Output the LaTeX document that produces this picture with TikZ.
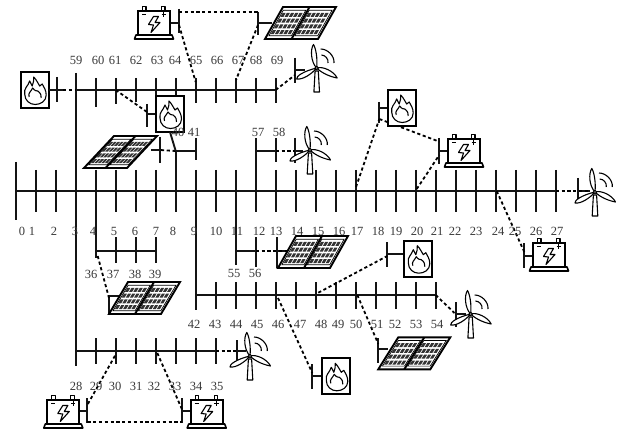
\documentclass[tikz,border=0pt]{standalone}
\usepackage{fontspec}
\setmainfont{Liberation Serif}
\definecolor{labelgray}{gray}{0.22}
\tikzset{
  busline/.style={line width=1.9pt,black!92},
  tickline/.style={line width=1.9pt,black!92},
  dashlink/.style={line width=1.8pt,black,dash pattern=on 3.2pt off 2.6pt},
  iconline/.style={line width=1.6pt,black,line join=round},
  thinicon/.style={line width=1.1pt,black,line join=round},
  lab/.style={font=\fontsize{12.5}{13}\selectfont,text=labelgray,inner sep=0pt,anchor=center},
  fbox/.style={draw,fill=white,line width=1.9pt,minimum width=28pt,minimum height=36pt,inner sep=0pt,outer sep=0pt,anchor=north west},
  bbox/.style={draw,fill=white,line width=1.8pt,minimum width=32pt,minimum height=24pt,inner sep=0pt,outer sep=0pt,anchor=north west},
}
% tick: name, x, ytop, ybottom
\newcommand\bustick[4]{%
  \coordinate (#1-t) at (#2,#3);
  \coordinate (#1-b) at (#2,#4);
  \draw[tickline] (#1-t) -- (#1-b);}
% fire box: name, x, y of top left corner
\newcommand\firebox[3]{%
  \node[fbox] (#1) at (#2,#3) {};
  \begin{scope}[shift={(#2,#3)}]
    \draw[thinicon,fill=white] (4,22) .. controls (3,16) and (7,15) .. (9,9)
      .. controls (10.5,11) and (11,12) .. (11.5,14)
      .. controls (13,11) and (13,8) .. (13,5)
      .. controls (16,8) and (17,11) .. (19,14)
      .. controls (20.5,13.5) and (21,13) .. (21.5,12)
      .. controls (23,15) and (25.5,18) .. (25.5,23)
      .. controls (25.5,29) and (20,32.5) .. (14.5,32.5)
      .. controls (9,32.5) and (4,28.5) .. (4,22) -- cycle;
    \draw[thinicon] (8.5,25) .. controls (7,21) and (10,20) .. (12,16)
      .. controls (14,19) and (16,19) .. (17,19)
      .. controls (20,21) and (21,24) .. (20.5,26);
  \end{scope}}
% battery: name, x, y of body top left corner
\newcommand\battery[3]{%
  \begin{scope}[shift={(#2,#3)}]
    \draw[thinicon,fill=white] (4.5,0) rectangle (8,-4.5);
    \draw[thinicon,fill=white] (23.5,0) rectangle (27,-4.5);
  \end{scope}
  \node[bbox] (#1) at (#2,#3) {};
  \begin{scope}[shift={(#2,#3)}]
    \draw[iconline,fill=white] (-3.5,28) -- (-2,24) -- (34,24) -- (35.5,28) -- cycle;
    \draw[thinicon] (4,3.5) -- (8,3.5);
    \draw[thinicon] (23.5,3.5) -- (28,3.5) (25.75,1.2) -- (25.75,5.8);
    \draw[thinicon] (15.5,5.5) -- (10.5,13.5) -- (15.5,14) -- (13,21.5) -- (22,11.5)
       -- (17,11.5) -- (20.5,5.5) -- cycle;
  \end{scope}}
% solar panel: name, x, y of bottom left corner, width, shear
\newcommand\solar[5]{%
  \coordinate (#1) at (#2,#3);
  \begin{scope}[shift={(#2,#3)},x={(#4pt,0pt)},y={(#5pt,32pt)}]
    \fill[white] (0,0) -- (1,0) -- (1,1) -- (0,1) -- cycle;
    \foreach \px in {0.055,0.545}{
      \foreach \i in {0,...,4}{
        \foreach \j in {0,...,3}{
          \pgfmathsetmacro\ua{\px+0.08*\i}
          \pgfmathsetmacro\ub{\ua+0.058}
          \pgfmathsetmacro\va{0.15+0.18*\j}
          \pgfmathsetmacro\vb{\va+0.125}
          \fill[black!80] (\ua,\va) -- (\ub,\va) -- (\ub,\vb) -- (\ua,\vb) -- cycle;
        }}}
    \draw[line width=1.9pt,line join=miter] (0,0) -- (1,0) -- (1,1) -- (0,1) -- cycle;
    \draw[line width=1.9pt] (0.5,0) -- (0.5,1);
    \draw[line width=0.7pt] (0.04,0.1) -- (0.465,0.1) -- (0.465,0.9) -- (0.04,0.9) -- cycle;
    \draw[line width=0.7pt] (0.53,0.1) -- (0.96,0.1) -- (0.96,0.9) -- (0.53,0.9) -- cycle;
  \end{scope}}
% wind turbine: name, hub x, hub y
\newcommand\turbine[3]{%
  \coordinate (#1) at (#2,#3);
  \begin{scope}[shift={(#2,#3)}]
    \draw[thinicon,fill=white] (-1.6,3) -- (-2.8,24) -- (2.8,24) -- (1.6,3) -- cycle;
    \draw[thinicon,fill=white] (0,0) .. controls (-6,-6) and (-6.5,-19) .. (-3.2,-23.5)
       .. controls (-1,-20) and (1,-10) .. (0,0) -- cycle;
    \draw[thinicon,fill=white] (0,0) .. controls (6,-2) and (17,3) .. (20.5,10)
       .. controls (15,9) and (6,6) .. (0,0) -- cycle;
    \draw[thinicon,fill=white] (0,0) .. controls (-5,6) and (-14,12) .. (-20,11)
       .. controls (-21,8.5) and (-13,3) .. (0,0) -- cycle;
    \fill[white] (0,0) circle (1.7);
    \draw[thinicon] (0,0) circle (1.7);
    \draw[thinicon] (4,-19) .. controls (11,-19) and (18,-12) .. (17.3,-5);
    \draw[thinicon] (4.7,-13) .. controls (8.5,-13) and (12,-9) .. (11.3,-5);
  \end{scope}}

\begin{document}
\begin{tikzpicture}[x=1pt,y=-1pt]
\useasboundingbox (0,0) rectangle (619,433);

% --- main bus 0-27
\coordinate (main-w) at (15.7,191);
\coordinate (main-e) at (555.7,191);
\draw[busline] (main-w) -- (main-e);
\bustick{m0}{15.7}{162}{220}
\bustick{m3}{75.7}{73}{366}
\bustick{m4}{95.7}{170}{258}
\bustick{m8}{175.7}{150}{212}
\bustick{m9}{195.7}{170}{310}
\bustick{m11}{235.7}{170}{265}
\bustick{m12}{255.7}{138}{212}
\foreach \i in {1,2,5,6,7,10,13,14,15,16,17,18,19,20,21,22,23,24,25,26,27}{
  \pgfmathsetmacro\xx{15.7+20*\i}
  \bustick{m\i}{\xx}{170}{212}
}

% --- upper bus 59-69
\coordinate (up-w) at (75.7,90);
\coordinate (up-e) at (275.7,90);
\draw[busline] (up-w) -- (up-e);
\foreach \i/\xx/\yb in {60/95.7/107,61/115.7/104,62/135.7/102,63/155.7/103,64/175.7/103,65/195.7/103,66/215.7/103,67/235.7/103,68/255.7/103,69/275.7/103}{
  \bustick{u\i}{\xx}{78}{\yb}
}

% --- branch 36-39
\coordinate (b36) at (95.7,251);
\coordinate (b39) at (155.7,251);
\draw[busline] (b36) -- (b39);
\foreach \i/\xx in {37/115.7,38/135.7,39/155.7}{\bustick{c\i}{\xx}{237}{263}}

% --- branch 42-54
\coordinate (b42) at (195.7,295);
\coordinate (b54) at (435.7,295);
\draw[busline] (b42) -- (b54);
\foreach \i/\xx in {43/215.7,44/235.7,45/255.7,46/275.7,47/295.7,48/315.7,49/335.7,50/355.7,51/375.7,52/395.7,53/415.7,54/435.7}{\bustick{d\i}{\xx}{282}{309}}

% --- branch 55-56
\coordinate (b55) at (235.7,251);
\coordinate (b56) at (255.7,251);
\draw[busline] (b55) -- (b56);
\bustick{e56}{255.7}{237}{267}

% --- branch 57-58
\coordinate (b57) at (255.7,151);
\coordinate (b58) at (275.7,151);
\draw[busline] (b57) -- (b58);
\bustick{f58}{275.7}{138}{162}

% --- branch 40-41
\coordinate (b40) at (175.7,151);
\coordinate (b41) at (195.7,151);
\draw[busline] (b40) -- (b41);
\bustick{g41}{195.7}{138}{160}

% --- lower bus 28-35
\coordinate (b28) at (75.7,351);
\coordinate (b35) at (215.7,351);
\draw[busline] (b28) -- (b35);
\foreach \i/\xx in {29/95.7,30/115.7,31/135.7,32/155.7,33/175.7,34/195.7,35/215.7}{\bustick{h\i}{\xx}{338}{364}}

% --- device ticks
\bustick{tf1}{57}{77}{102}
\bustick{tf2}{147}{104}{127}
\bustick{tf3}{379.3}{102}{123}
\bustick{tf4}{387.3}{242}{267}
\bustick{tf5}{312.3}{364}{389}
\bustick{tb1}{179}{9}{33}
\bustick{tb2}{439.3}{138}{164}
\bustick{tb3}{524.3}{243}{268}
\bustick{tb4}{87.3}{398}{423}
\bustick{tb5}{182.3}{398}{423}
\bustick{ts1}{258}{12}{35}
\bustick{ts2}{160}{137}{163}
\bustick{ts3}{277}{237}{268}
\bustick{ts4}{109}{295}{314}
\bustick{ts5}{378.3}{338}{363}
\bustick{tw1}{295}{58}{83}
\bustick{tw2}{295}{138}{163}
\bustick{tw3}{577.7}{178}{202}
\bustick{tw4}{455.7}{302}{327}
\bustick{tw5}{237}{340}{362}

% --- stubs from ticks to devices
\coordinate (sf1a) at (57,90);   \coordinate (sf1e) at (63,90);
\coordinate (sf2a) at (147,114); \coordinate (sf3a) at (379.3,108);
\coordinate (sf4a) at (387.3,253.7); \coordinate (sf5a) at (312.3,375.7);
\coordinate (sb1a) at (179,23);  \coordinate (sb2a) at (439.3,151);
\coordinate (sb3a) at (524.3,256); \coordinate (sb4a) at (87.3,411.3);
\coordinate (sb5a) at (182.3,411.3);
\coordinate (ss1a) at (258,23);  \coordinate (ss1e) at (272,23);
\coordinate (ss2a) at (160,150); \coordinate (ss2e) at (151,150);
\coordinate (ss3a) at (277,251); \coordinate (ss3e) at (288,251);
\coordinate (ss4a) at (109,296); \coordinate (ss4e) at (120,296);
\coordinate (ss5a) at (378.3,349); \coordinate (ss5e) at (388,349);
\coordinate (sw1a) at (295,70);  \coordinate (sw1e) at (305,70);
\coordinate (sw2a) at (295,151); \coordinate (sw2e) at (303,151);
\coordinate (sw3a) at (577.7,191); \coordinate (sw3e) at (590,191);
\coordinate (sw4a) at (455.7,314); \coordinate (sw4e) at (466,314);
\coordinate (sw5a) at (237,351); \coordinate (sw5e) at (246,351);
\draw[busline] (sf2a) -- ++(9,0);
\draw[busline] (sf3a) -- ++(9,0);
\draw[busline] (sf4a) -- ++(17,0);
\draw[busline] (sf5a) -- ++(10,0);
\draw[busline] (sb1a) -- ++(-9,0);
\draw[busline] (sb2a) -- ++(9,0);
\draw[busline] (sb3a) -- ++(9,0);
\draw[busline] (sb4a) -- ++(-8,0);
\draw[busline] (sb5a) -- ++(9,0);
\foreach \p in {ss1,ss2,ss3,ss4,ss5,sw1,sw2,sw3,sw4,sw5}{\draw[busline] (\p a) -- (\p e);}

% --- dashed links
\coordinate (dA) at (115.7,90);
\coordinate (dA2) at (147,112);
\draw[dashlink] (dA) -- (dA2);
\coordinate (dT1) at (179,12);   \coordinate (dT2) at (258,12);
\draw[dashlink] (dT1) -- (dT2);
\coordinate (dT3) at (179,25);   \coordinate (dT4) at (195.7,82);
\draw[dashlink] (dT3) -- (dT4);
\coordinate (dT5) at (258,25);   \coordinate (dT6) at (236,80);
\draw[dashlink] (dT5) -- (dT6);
\coordinate (dW1) at (295,75);
\draw[dashlink] (up-e) -- (dW1);
\draw[dashlink] (b40) -- (ss2a);
\draw[dashlink] (b58) -- (sw2a);
\draw[dashlink] (main-e) -- (sw3e);
\coordinate (dW4) at (454.5,313);
\draw[dashlink] (b54) -- (dW4);
\draw[dashlink] (b35) -- (sw5a);
\draw[dashlink] (b56) -- (ss3e);
\draw[dashlink] (sf1e) -- (up-w);
\draw[busline] (sf1a) -- (sf1e);
\coordinate (dF1) at (356,187);  \coordinate (dF2) at (379.3,119);
\draw[dashlink] (dF1) -- (dF2);
\coordinate (dF3) at (439.3,141.7);
\draw[dashlink] (dF2) -- (dF3);
\coordinate (dF4) at (416.7,189); \coordinate (dF5) at (439.3,155);
\draw[dashlink] (dF4) -- (dF5);
\coordinate (dM1) at (496.7,191); \coordinate (dM2) at (524.3,252);
\draw[dashlink] (dM1) -- (dM2);
\coordinate (dS1) at (97.7,256); \coordinate (dS2) at (109,298);
\draw[dashlink] (dS1) -- (dS2);
\coordinate (dS3) at (357.3,295); \coordinate (dS4) at (378.3,344);
\draw[dashlink] (dS3) -- (dS4);
\coordinate (dS5) at (278,298); \coordinate (dS6) at (312.3,373);
\draw[dashlink] (dS5) -- (dS6);
\coordinate (dS7) at (318.3,292.7); \coordinate (dS8) at (387.3,256);
\draw[dashlink] (dS7) -- (dS8);
\coordinate (dL1) at (115,355.7); \coordinate (dL2) at (87.3,405);
\draw[dashlink] (dL1) -- (dL2);
\coordinate (dL3) at (87.3,422); \coordinate (dL4) at (182.3,422);
\draw[dashlink] (dL3) -- (dL4);
\coordinate (dL5) at (157.3,353); \coordinate (dL6) at (182.3,410);
\draw[dashlink] (dL5) -- (dL6);

% --- devices
\firebox{fire1}{20.7}{72}
\firebox{fire2}{156}{96}
\firebox{fire3}{387.7}{90}
\firebox{fire4}{404.3}{240.7}
\firebox{fire5}{322.3}{358.3}
\coordinate (sl1) at (175.7,151);
\coordinate (sl2) at (170,132);
\draw[busline] (sl1) -- (sl2);
\draw[busline] (fire1.east) -- (sf1a);
\battery{batt1}{138}{11}
\battery{batt2}{448}{139}
\battery{batt3}{533}{243}
\battery{batt4}{47.3}{400}
\battery{batt5}{190.7}{400}
\solar{pv1}{265}{39}{53}{18}
\solar{pv2}{84}{168}{43}{30}
\solar{pv3}{278}{268}{52}{18}
\solar{pv4}{109}{314}{52}{19}
\solar{pv5}{378.3}{369.3}{52}{20}
\turbine{wt1}{316.7}{68}
\turbine{wt2}{310}{150}
\turbine{wt3}{595}{192}
\turbine{wt4}{470.7}{314}
\turbine{wt5}{250}{356}

% --- labels
\foreach \n/\x in {0/22,1/32,2/54,3/75,4/93,5/114,6/135,7/156,8/173,9/194,10/216,11/237,12/259,13/276,14/297,15/318,16/339,17/357,18/378,19/396,20/417,21/437,22/455,23/476,24/498,25/515,26/536,27/557}
  \node[lab] (n\n) at (\x,231) {\n};
\foreach \n/\x in {59/76,60/98,61/115,62/136,63/157,64/175,65/196,66/217,67/238,68/256,69/277}
  \node[lab] (n\n) at (\x,60) {\n};
\foreach \n/\x in {36/91,37/113,38/135,39/155}
  \node[lab] (n\n) at (\x,274) {\n};
\foreach \n/\x in {55/234,56/255}
  \node[lab] (n\n) at (\x,273) {\n};
\foreach \n/\x in {42/194,43/215,44/236,45/257,46/278,47/300,48/321,49/338,50/356,51/377,52/395,53/416,54/437}
  \node[lab] (n\n) at (\x,324) {\n};
\foreach \n/\x in {28/76,29/96,30/115,31/136,32/154,33/175,34/196,35/217}
  \node[lab] (n\n) at (\x,386) {\n};
\foreach \n/\x in {40/178,41/194,57/258,58/279}
  \node[lab] (n\n) at (\x,132) {\n};
\end{tikzpicture}
\end{document}
